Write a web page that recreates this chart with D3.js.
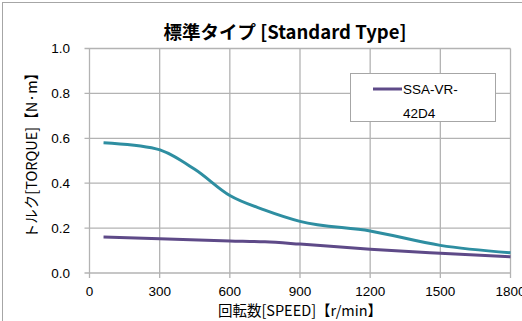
<!DOCTYPE html>
<html><head>
<meta charset="utf-8">
<title>標準タイプ [Standard Type]</title>
<style>
  body { margin: 0; background: #fff; }
  svg { display: block; }
  text { font-family: "Liberation Sans", Arial, "Noto Sans CJK JP", sans-serif; fill: #000; }
  .grid line { stroke: #b3b3b3; stroke-width: 1.3px; }
</style>
<script src="https://d3js.org/d3.v7.min.js"></script>
</head>
<body>
<div id="chart"></div>
<script>
// speed [r/min]
const tealSpeed  = [60, 285, 450, 600, 750, 900, 1200, 1500, 1800];
const tealTorque = [0.58, 0.553, 0.462, 0.345, 0.28, 0.23, 0.187, 0.123, 0.09];

const purpleSpeed  = [60, 300, 600, 750, 900, 1200, 1500, 1800];
const purpleTorque = [0.16, 0.153, 0.143, 0.139, 0.129, 0.106, 0.088, 0.072];

const xTicks = [0, 300, 600, 900, 1200, 1500, 1800];
const yTicks = [0, 0.2, 0.4, 0.6, 0.8, 1.0];
const legendName = ["SSA-VR-", "42D4"];

const W = 522, H = 321;
const svg = d3.select("#chart").append("svg").attr("width", W).attr("height", H);

// chart area border (cut off on right/bottom)
svg.append("rect").attr("x", 2.5).attr("y", 2.5).attr("width", W + 10).attr("height", H + 10)
  .attr("fill", "none").attr("stroke", "#a6a6a6").attr("stroke-width", 1);

const x = d3.scaleLinear().domain([0, 1800]).range([89.5, 510.5]);
const y = d3.scaleLinear().domain([0, 1]).range([273, 48.5]);

// gridlines
const grid = svg.append("g").attr("class", "grid");
grid.selectAll(".h").data(yTicks).join("line")
  .attr("x1", x(0) - 5).attr("x2", x(1800))
  .attr("y1", d => y(d)).attr("y2", d => y(d));
grid.selectAll(".v").data(xTicks).join("line")
  .attr("x1", d => x(d)).attr("x2", d => x(d))
  .attr("y1", y(1)).attr("y2", y(0) + 5);

// tick labels
svg.append("g").selectAll("text").data(yTicks).join("text")
  .attr("x", 70).attr("y", d => y(d)).attr("dy", "0.36em")
  .attr("text-anchor", "end").attr("font-size", 13.5)
  .text(d => d3.format(".1f")(d));
svg.append("g").selectAll("text").data(xTicks).join("text")
  .attr("x", d => x(d)).attr("y", 291).attr("dy", "0.36em")
  .attr("text-anchor", "middle").attr("font-size", 13.5)
  .text(d => d);

// series
const line = d3.line().x(d => x(d[0])).y(d => y(d[1])).curve(d3.curveMonotoneX);
svg.append("path").datum(d3.zip(tealSpeed, tealTorque))
  .attr("fill", "none").attr("stroke", "#2e8ea1").attr("stroke-width", 3)
  .attr("d", line);
svg.append("path").datum(d3.zip(purpleSpeed, purpleTorque))
  .attr("fill", "none").attr("stroke", "#5e4a88").attr("stroke-width", 3)
  .attr("d", line);

// title
svg.append("text").attr("x", 285).attr("y", 39).attr("text-anchor", "middle")
  .attr("font-size", 18.5).attr("font-weight", "bold")
  .style("font-family", "'Noto Sans CJK JP', sans-serif")
  .text("標準タイプ [Standard Type]");

// axis titles
svg.append("text").attr("x", 300).attr("y", 316).attr("text-anchor", "middle")
  .attr("font-size", 14.5).style("font-family", "'Noto Sans CJK JP', sans-serif")
  .text("回転数[SPEED]【r/min】");
svg.append("text").attr("transform", "translate(37,152) rotate(-90)")
  .attr("text-anchor", "middle").attr("font-size", 14.5)
  .style("font-family", "'Noto Sans CJK JP', sans-serif")
  .text("トルク[TORQUE]【N·m】");

// legend
const lg = svg.append("g");
lg.append("rect").attr("x", 350.5).attr("y", 73.5).attr("width", 145).attr("height", 48)
  .attr("fill", "#fff").attr("stroke", "#a6a6a6").attr("stroke-width", 1);
lg.append("line").attr("x1", 373).attr("x2", 402).attr("y1", 89).attr("y2", 89)
  .attr("stroke", "#5e4a88").attr("stroke-width", 3);
lg.selectAll(".lt").data(legendName).join("text")
  .attr("x", 403).attr("y", (d, i) => 89 + i * 24).attr("dy", "0.36em")
  .attr("font-size", 13.5).text(d => d);
</script>
</body></html>
